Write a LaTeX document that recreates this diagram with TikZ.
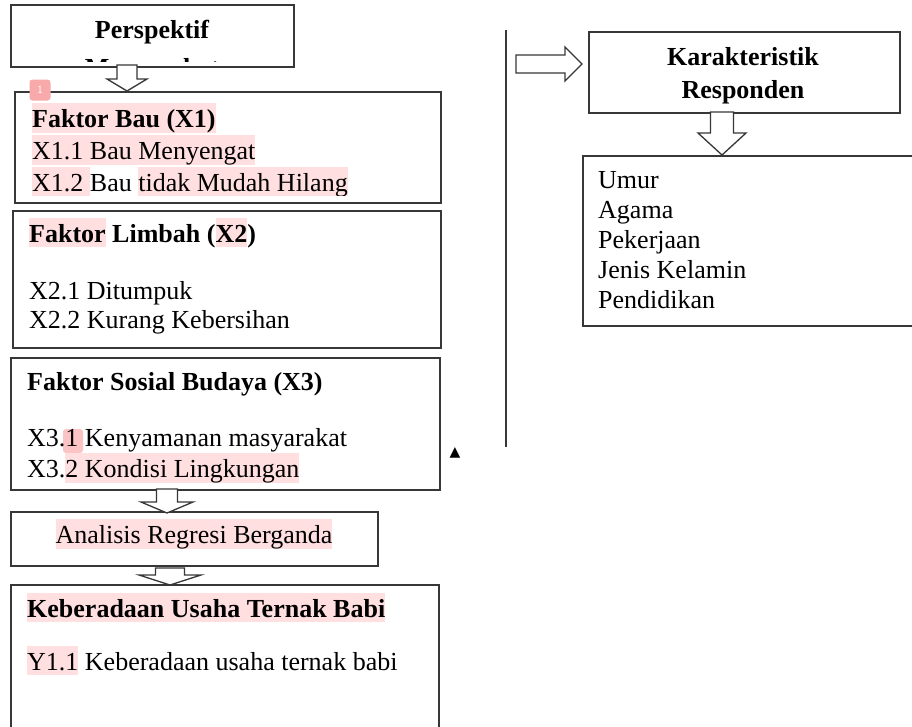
\documentclass[tikz,border=0pt]{standalone}
\usepackage{fontspec}
\setmainfont{Liberation Serif}
\definecolor{hlpink}{RGB}{255,223,223}
\definecolor{badgepink}{RGB}{248,170,170}
\definecolor{ln}{RGB}{55,55,55}
\newcommand\hlt[1]{{\setlength{\fboxsep}{0pt}\colorbox{hlpink}{\rule[-5pt]{0pt}{29pt}#1}}}
\begin{document}
\begin{tikzpicture}[x=1pt,y=-1pt,
  box/.style={draw=ln, line width=1.6pt, fill=white, inner sep=0pt, anchor=north west},
  txt/.style={anchor=base west, inner sep=0pt, font=\fontsize{26}{30}\selectfont},
  ctxt/.style={anchor=base, inner sep=0pt, font=\fontsize{26}{30}\selectfont},
  blk/.style={draw=ln, line width=1.3pt, fill=white, line join=miter}]
\useasboundingbox (0,0) rectangle (912,726);
% boxes
\node[box, minimum width=283pt, minimum height=62pt] (persp) at (10,4) {};
\node[box, minimum width=426pt, minimum height=111pt] (x1) at (14,91) {};
\node[box, minimum width=428pt, minimum height=137pt] (x2) at (12,210) {};
\node[box, minimum width=429pt, minimum height=132pt] (x3) at (10,357) {};
\node[box, minimum width=367pt, minimum height=54pt] (ana) at (10,511) {};
\node[box, minimum width=428pt, minimum height=160pt] (y1) at (10,584) {};
\node[box, minimum width=311pt, minimum height=81pt] (kar) at (588,31) {};
\node[box, minimum width=340pt, minimum height=170pt] (list) at (582,155) {};
% vertical divider
\coordinate (vtop) at (506,30);
\coordinate (vbot) at (506,447);
\draw[ln, line width=1.6pt] (vtop) -- (vbot);
\node[inner sep=0pt, font=\fontsize{14}{14}\selectfont] (tri) at (455,453) {\fontspec{DejaVu Sans}▲};
% block arrows
\coordinate (a1) at (127,65);
\draw[blk, shift={(a1)}] (-10,0) -- (10,0) -- (10,14) -- (20,14) -- (0,26) -- (-20,14) -- (-10,14) -- cycle;
\coordinate (a2) at (167,489);
\draw[blk, shift={(a2)}] (-10.5,0) -- (10.5,0) -- (10.5,13) -- (26,13) -- (0,24) -- (-26,13) -- (-10.5,13) -- cycle;
\coordinate (a3) at (170,568);
\draw[blk, shift={(a3)}] (-14.5,0) -- (14.5,0) -- (14.5,7) -- (31,7) -- (0,17) -- (-31,7) -- (-14.5,7) -- cycle;
\coordinate (a4) at (516,64);
\draw[blk, shift={(a4)}] (0,-9) -- (49,-9) -- (49,-17) -- (66,0) -- (49,17) -- (49,9) -- (0,9) -- cycle;
\coordinate (a5) at (722,112);
\draw[blk, shift={(a5)}] (-11.5,0) -- (11.5,0) -- (11.5,21) -- (24,21) -- (0,43) -- (-24,21) -- (-11.5,21) -- cycle;
% badge
\node[fill=badgepink, rounded corners=3pt, minimum size=21pt, inner sep=0pt, text=white,
  font=\sffamily\fontsize{11}{11}\selectfont] (badge) at (40,90) {1};
% Perspektif text (clipped by box)
\begin{scope}
\clip (12,6) rectangle (291,61);
\node[ctxt, font=\bfseries\fontsize{26}{30}\selectfont] (pt1) at (152,38) {Perspektif};
\node[ctxt, font=\bfseries\fontsize{26}{30}\selectfont] (pt2) at (152,76) {Masyarakat};
\end{scope}
% X1
\node[txt, font=\bfseries\fontsize{26}{30}\selectfont] (x1h) at (32,127) {\hlt{Faktor Bau (X1)}};
\node[txt] (x1a) at (32,159) {\hlt{X1.1 Bau Menyengat}};
\begin{scope}
\clip (16,165) rectangle (438,195);
\node[txt] (x1b) at (32,191) {\hlt{X1.2}\hlt{ }Bau \hlt{tidak Mudah Hilang}};
\end{scope}
% X2
\node[txt, font=\bfseries\fontsize{26}{30}\selectfont] (x2h) at (29,242) {\hlt{Faktor} Limbah (\hlt{X2})};
\node[txt] (x2a) at (29,299) {X2.1 Ditumpuk};
\node[txt] (x2b) at (29,328) {X2.2 Kurang Kebersihan};
% X3
\fill[badgepink!70, rounded corners=3pt] (63,429) rectangle (83,453);
\node[txt, font=\bfseries\fontsize{26}{30}\selectfont] (x3h) at (27,390) {Faktor Sosial Budaya (X3)};
\node[txt] (x3a) at (27,446) {X3.1 Kenyamanan masyarakat};
\node[txt] (x3b) at (27,477) {X3.\hlt{2 Kondisi Lingkungan}};
% Analisis
\node[ctxt] (anat) at (194,543) {\hlt{Analisis Regresi Berganda}};
% Y
\node[txt, font=\bfseries\fontsize{26}{30}\selectfont] (yh) at (27,617) {\hlt{Keberadaan Usaha Ternak Babi}};
\node[txt] (ya) at (27,670) {\hlt{Y1.1} Keberadaan usaha ternak babi};
% Karakteristik
\node[ctxt, font=\bfseries\fontsize{26}{30}\selectfont] (k1) at (743,65) {Karakteristik};
\node[ctxt, font=\bfseries\fontsize{26}{30}\selectfont] (k2) at (743,98) {Responden};
% list
\node[txt] (l1) at (598,188) {Umur};
\node[txt] (l2) at (598,218) {Agama};
\node[txt] (l3) at (598,248) {Pekerjaan};
\node[txt] (l4) at (598,278) {Jenis Kelamin};
\node[txt] (l5) at (598,308) {Pendidikan};
\end{tikzpicture}
\end{document}
